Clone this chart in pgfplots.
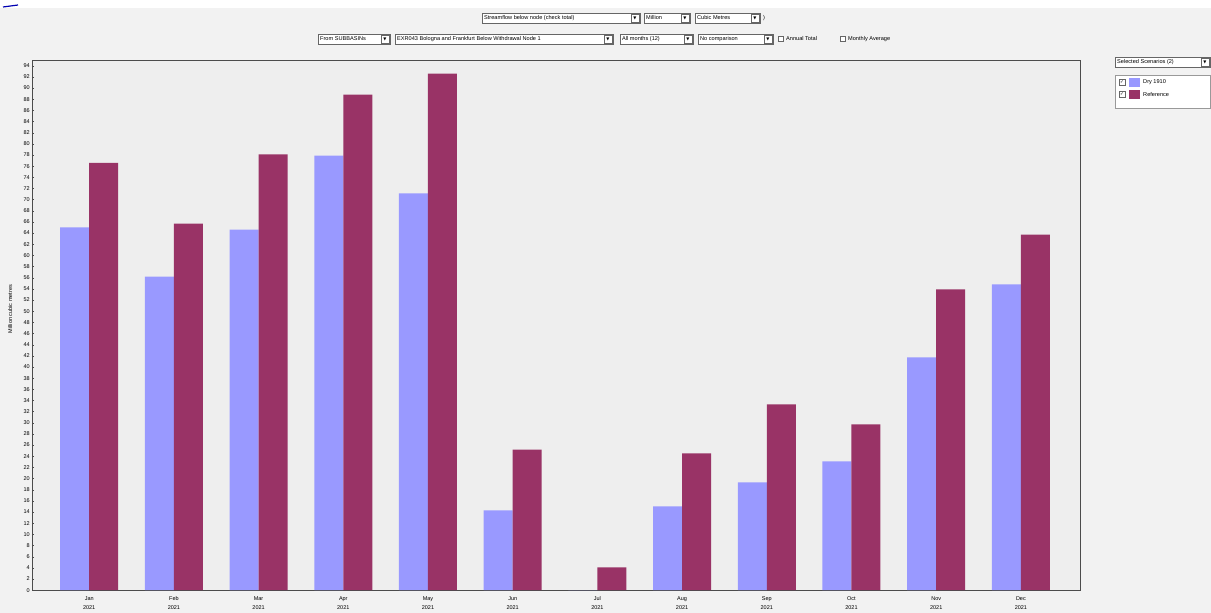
\documentclass[border=0pt]{standalone}
\usepackage{pgfplots}
\pgfplotsset{compat=1.18}
\usepackage{fontspec}
\setmainfont{Liberation Sans}
\newfontfamily\symfont{DejaVu Sans}
\definecolor{bg}{HTML}{F2F2F2}
\definecolor{plotbg}{HTML}{EEEEEE}
\definecolor{dryc}{HTML}{9999FF}
\definecolor{refc}{HTML}{993366}
\pgfplotstableread{
x dry ref
0 65.0 76.6
1 56.2 65.7
2 64.6 78.1
3 77.9 88.8
4 71.1 92.6
5 14.3 25.2
6 0.0 4.1
7 15.0 24.5
8 19.3 33.3
9 23.1 29.7
10 41.7 53.9
11 54.8 63.7
}\datatable
\newcommand{\tf}{\fontsize{5.5}{6.5}\selectfont}
\newcommand{\xf}{\fontsize{5.5}{8.5}\selectfont}
\newcommand{\wf}{\fontsize{5.6}{6.5}\selectfont}
% \wid{left}{right}{ycenter}{text}
\newcommand{\wid}[4]{%
  \draw[black!60, fill=white] (#1,#3-5) rectangle (#2,#3+5);
  \draw[black!60, fill=white] (#2-9,#3-4) rectangle (#2-1,#3+4);
  \node[font=\fontsize{4}{5}\selectfont\symfont, inner sep=0pt] at (#2-5,#3) {▼};
  \node[font=\wf, anchor=west, inner sep=0pt] at (#1+2,#3) {#4};
}
\begin{document}
\begin{tikzpicture}[x=1pt,y=1pt]
\path[use as bounding box] (0,0) rectangle (1211,613);
\fill[bg] (0,0) rectangle (1211,613);
\fill[white] (0,613) rectangle (1211,605);
\draw[blue!70!black, line width=1.2pt] (3,606) -- (18,608);
% top widgets
\wid{482}{640}{595}{Streamflow below node (check total)}
\wid{644}{690}{595}{Million}
\wid{695}{760}{595}{Cubic Metres}
\node[font=\wf] at (764,595) {)};
\wid{318}{390}{574}{From SUBBASINs}
\wid{395}{613}{574}{EXR043 Bologna and Frankfurt Below Withdrawal Node 1}
\wid{620}{693}{574}{All months (12)}
\wid{698}{773}{574}{No comparison}
\draw[black!60, fill=white] (778,571.5) rectangle (783,576.5);
\node[font=\wf, anchor=west, inner sep=0pt] at (786,574) {Annual Total};
\draw[black!60, fill=white] (840,571.5) rectangle (845,576.5);
\node[font=\wf, anchor=west, inner sep=0pt] at (848,574) {Monthly Average};
% right legend widgets
\wid{1115}{1210}{551}{Selected Scenarios (2)}
\draw[black!40, fill=white] (1115,505) rectangle (1210,538);
\draw[black!60, fill=white] (1119,527.5) rectangle (1125,533.5);
\node[font=\fontsize{4.5}{5}\selectfont\symfont, inner sep=0pt] at (1122,530.5) {✓};
\fill[dryc] (1129,526) rectangle (1140,535);
\node[font=\wf, anchor=west, inner sep=0pt] at (1143,530.5) {Dry 1910};
\draw[black!60, fill=white] (1119,515.5) rectangle (1125,521.5);
\node[font=\fontsize{4.5}{5}\selectfont\symfont, inner sep=0pt] at (1122,518.5) {✓};
\fill[refc] (1129,514) rectangle (1140,523);
\node[font=\wf, anchor=west, inner sep=0pt] at (1143,518.5) {Reference};
\begin{axis}[
  at={(38,41)}, anchor=south west,
  scale only axis, width=1048pt, height=530pt,
  axis background/.style={fill=plotbg},
  axis line style={black!70, line width=0.8pt},
  ybar=0pt, bar width=29pt,
  xmin=-0.673, xmax=11.70,
  ymin=0, ymax=95,
  xtick=data,
  xticklabels={Jan\strut\\2021,Feb\strut\\2021,Mar\strut\\2021,Apr\strut\\2021,May\strut\\2021,Jun\strut\\2021,Jul\strut\\2021,Aug\strut\\2021,Sep\strut\\2021,Oct\strut\\2021,Nov\strut\\2021,Dec\strut\\2021},
  xticklabel style={align=center, font=\xf, yshift=1pt},
  ytick={0,2,...,94},
  yticklabel style={font=\tf, xshift=1pt},
  /pgf/number format/assume math mode=true,
  tick style={black!70},
  major tick length=2pt,
  xtick style={draw=none},
  ytick pos=left,
  ylabel={Million cubic metres},
  ylabel style={font=\tf, at={(-0.021,0.53)}, anchor=center, inner sep=0pt},
]
\addplot[fill=dryc, draw=none] table[x=x, y=dry] {\datatable};
\addplot[fill=refc, draw=none] table[x=x, y=ref] {\datatable};
\end{axis}
\end{tikzpicture}
\end{document}
